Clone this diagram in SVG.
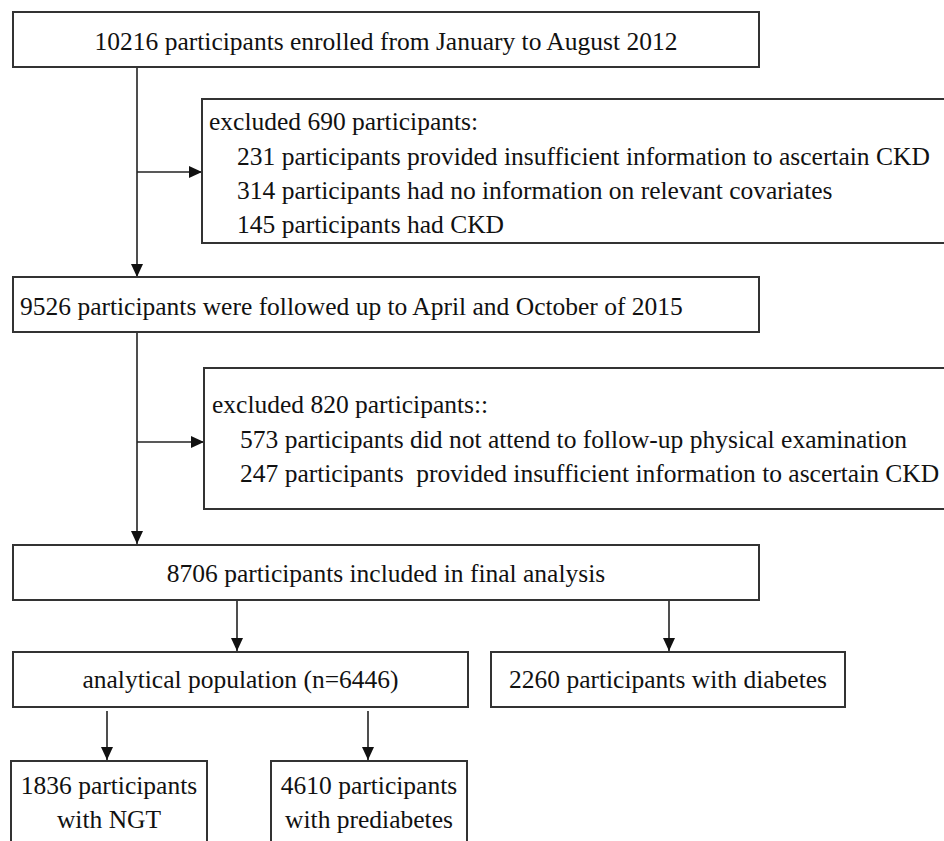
<svg xmlns="http://www.w3.org/2000/svg" width="944" height="841" viewBox="0 0 944 841">
<style>
.box{fill:#fff;stroke:#333;stroke-width:2}
.t{font-family:"Liberation Serif","Times New Roman",serif;font-size:25.5px;fill:#111}
.c{text-anchor:middle}
.ln{stroke:#222;stroke-width:1.6;fill:none}
</style>
<defs>
<marker id="ah" markerUnits="userSpaceOnUse" markerWidth="14" markerHeight="14" viewBox="0 0 14 14" refX="13" refY="7" orient="auto">
<path d="M0,1 L13,7 L0,13 Z" fill="#111"/>
</marker>
</defs>
<rect width="944" height="841" fill="#fff"/>
<g id="connectors">
<line class="ln" x1="137" y1="67" x2="137" y2="277" marker-end="url(#ah)"/>
<line class="ln" x1="137" y1="172" x2="202" y2="172" marker-end="url(#ah)"/>
<line class="ln" x1="137" y1="332" x2="137" y2="544" marker-end="url(#ah)"/>
<line class="ln" x1="137" y1="442" x2="204" y2="442" marker-end="url(#ah)"/>
<line class="ln" x1="237" y1="600" x2="237" y2="651" marker-end="url(#ah)"/>
<line class="ln" x1="669" y1="600" x2="669" y2="651" marker-end="url(#ah)"/>
<line class="ln" x1="107" y1="711" x2="107" y2="760" marker-end="url(#ah)"/>
<line class="ln" x1="368" y1="711" x2="368" y2="760" marker-end="url(#ah)"/>
</g>
<g id="enrolled">
<rect class="box" x="13" y="12" width="746" height="55"/>
<text class="t c" x="386" y="50">10216 participants enrolled from January to August 2012</text>
</g>
<g id="excluded1">
<rect class="box" x="202" y="99" width="760" height="144"/>
<text class="t" x="209" y="130">excluded 690 participants:</text>
<text class="t" x="237" y="165">231 participants provided insufficient information to ascertain CKD</text>
<text class="t" x="237" y="199">314 participants had no information on relevant covariates</text>
<text class="t" x="237" y="233">145 participants had CKD</text>
</g>
<g id="followed">
<rect class="box" x="13" y="277" width="746" height="55"/>
<text class="t" x="20" y="315">9526 participants were followed up to April and October of 2015</text>
</g>
<g id="excluded2">
<rect class="box" x="204" y="368" width="760" height="141"/>
<text class="t" x="212" y="413">excluded 820 participants::</text>
<text class="t" x="240" y="448">573 participants did not attend to follow-up physical examination</text>
<text class="t" x="240" y="482" style="white-space:pre">247 participants  provided insufficient information to ascertain CKD</text>
</g>
<g id="final">
<rect class="box" x="13" y="545" width="746" height="55"/>
<text class="t c" x="386" y="582">8706 participants included in final analysis</text>
</g>
<g id="analytical">
<rect class="box" x="13" y="652" width="455" height="55"/>
<text class="t c" x="240.5" y="688">analytical population (n=6446)</text>
</g>
<g id="diabetes">
<rect class="box" x="491" y="652" width="354" height="55"/>
<text class="t c" x="668" y="688">2260 participants with diabetes</text>
</g>
<g id="ngt">
<rect class="box" x="11" y="761" width="196" height="100"/>
<text class="t c" x="109" y="794">1836 participants</text>
<text class="t c" x="109" y="828">with NGT</text>
</g>
<g id="prediabetes">
<rect class="box" x="271" y="761" width="196" height="100"/>
<text class="t c" x="369" y="794">4610 participants</text>
<text class="t c" x="369" y="828">with prediabetes</text>
</g>
</svg>
